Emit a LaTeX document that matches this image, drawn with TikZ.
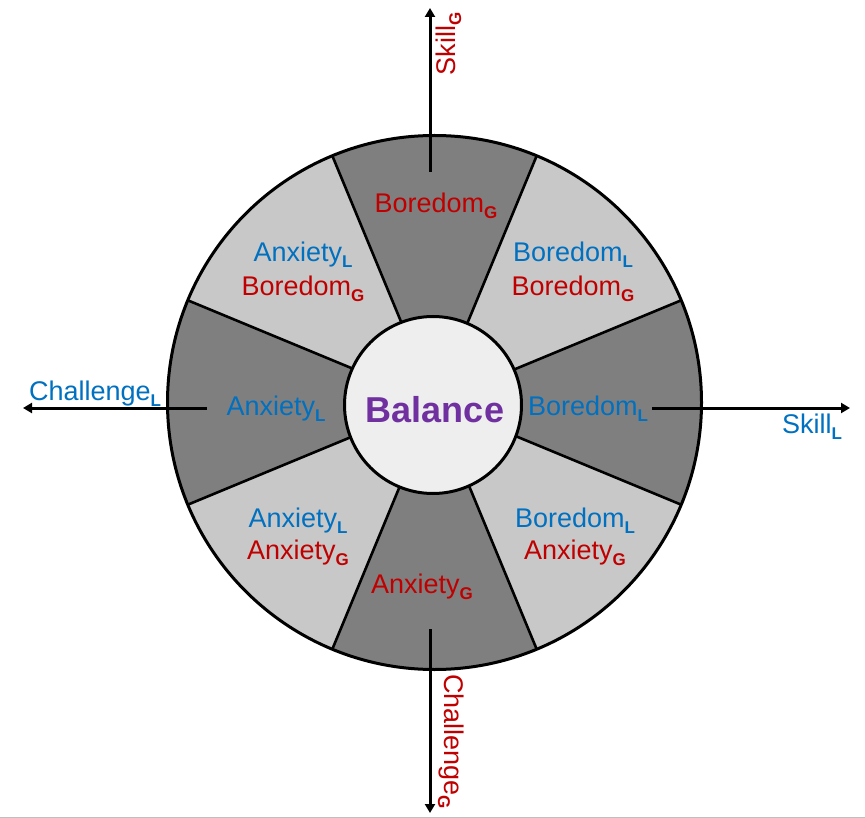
\documentclass[tikz,border=0pt]{standalone}
\usepackage{fontspec}
\setmainfont{Liberation Sans}
\usetikzlibrary{arrows.meta}
\definecolor{cred}{HTML}{C00000}
\definecolor{cblue}{HTML}{0070C0}
\definecolor{cpurple}{HTML}{7030A0}
\definecolor{segdark}{HTML}{7F7F7F}
\definecolor{seglight}{HTML}{C8C8C8}
\definecolor{cinner}{HTML}{EEEEEE}
\newcommand\lsub[1]{\raisebox{-6pt}{\fontsize{17}{17}\selectfont\bfseries #1}}
\begin{document}
\begin{tikzpicture}[x=1pt,y=-1pt,
  lab/.style={font=\fontsize{27}{30}\selectfont, anchor=base, inner sep=0pt},
  blab/.style={lab, text=cblue},
  rlab/.style={lab, text=cred},
  axisarrow/.style={line width=3pt, -{Triangle[length=9pt,width=10pt]}},
  segline/.style={line width=2.6pt, black}]
\useasboundingbox (0,0) rectangle (865,818);
\draw[black!25, line width=1pt] (0,817.5) -- (865,817.5);
\coordinate (O) at (434.5,402.5);
% sectors
\fill[seglight] (O) circle[radius=267];
\foreach \a in {0,90,180,270}
  \fill[segdark] (O) -- +(\a-22.5:267) arc[start angle=\a-22.5, end angle=\a+22.5, radius=267] -- cycle;
\foreach \a in {22.5,67.5,112.5,157.5,202.5,247.5,292.5,337.5}
  \draw[segline] (O) -- +(\a:267);
\draw[line width=3pt] (O) circle[radius=267];
% inner circle
\node[circle, draw, line width=3pt, fill=cinner, minimum size=177pt, inner sep=0pt] (bal) at (433,405) {};
\node[font=\fontsize{36}{40}\selectfont\bfseries, text=cpurple, anchor=base, inner sep=0pt] (baltxt) at (435,422) {Balance};
% axes
\coordinate (tS) at (430,172); \coordinate (tE) at (430,8);
\coordinate (bS) at (430,629); \coordinate (bE) at (430,813);
\coordinate (lS) at (207,408); \coordinate (lE) at (23,408);
\coordinate (rS) at (652,408); \coordinate (rE) at (850,408);
\draw[axisarrow] (tS) -- (tE);
\draw[axisarrow] (bS) -- (bE);
\draw[axisarrow] (lS) -- (lE);
\draw[axisarrow] (rS) -- (rE);
% axis labels
\node[rlab, rotate=90] (skillG) at (455,44) {Skill\lsub{G}};
\node[rlab, rotate=-90] (chalG) at (444,741.5) {Challenge\lsub{G}};
\node[blab] (chalL) at (95,400.7) {Challenge\lsub{L}};
\node[blab] (skillL) at (812,433.5) {Skill\lsub{L}};
% segment labels
\node[rlab] (sTop) at (436,212.3) {Boredom\lsub{G}};
\node[blab] (sLeft) at (276,415.5) {Anxiety\lsub{L}};
\node[blab] (sRight) at (588,415.5) {Boredom\lsub{L}};
\node[rlab] (sBot) at (422,593) {Anxiety\lsub{G}};
\node[blab] (sUL1) at (303,262) {Anxiety\lsub{L}};
\node[rlab] (sUL2) at (303,296) {Boredom\lsub{G}};
\node[blab] (sUR1) at (573,262) {Boredom\lsub{L}};
\node[rlab] (sUR2) at (573,296) {Boredom\lsub{G}};
\node[blab] (sLL1) at (298,527) {Anxiety\lsub{L}};
\node[rlab] (sLL2) at (298,559) {Anxiety\lsub{G}};
\node[blab] (sLR1) at (575,527) {Boredom\lsub{L}};
\node[rlab] (sLR2) at (575,559) {Anxiety\lsub{G}};
\end{tikzpicture}
\end{document}
